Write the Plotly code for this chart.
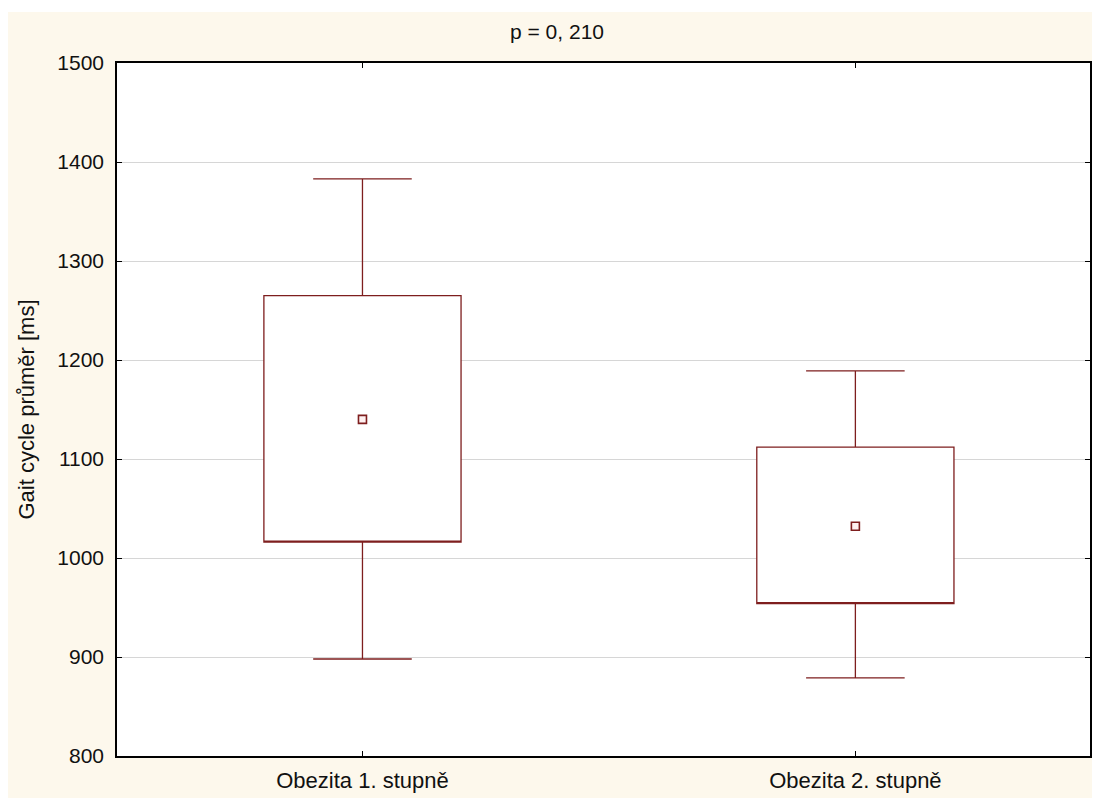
import plotly.graph_objects as go

groups = ["Obezita 1. stupně", "Obezita 2. stupně"]
means = [1140, 1032]
box_low = [1016, 954]
box_high = [1265, 1112]
whisker_low = [898, 879]
whisker_high = [1383, 1189]
y_ticks = [800, 900, 1000, 1100, 1200, 1300, 1400, 1500]

DARK_RED = "#7E1E1E"
CREAM = "#FDF8EC"
FONT = "Liberation Sans, Arial, sans-serif"

fig = go.Figure()
for i, g in enumerate(groups):
    fig.add_trace(go.Box(
        x=[g], q1=[box_low[i]], median=[box_low[i]], q3=[box_high[i]],
        lowerfence=[whisker_low[i]], upperfence=[whisker_high[i]],
        width=0.4, whiskerwidth=0.5, fillcolor="white",
        line=dict(color=DARK_RED, width=1.3), boxpoints=False,
        showlegend=False, hoverinfo="skip",
    ))
fig.add_trace(go.Scatter(
    x=groups, y=means, mode="markers",
    marker=dict(symbol="square", size=8, color="#FFF0F0",
                line=dict(color=DARK_RED, width=1.6)),
    showlegend=False,
))

# page is offset by 8px body margin
W, H = 1084, 790
L, R, T, B = 109, 0, 55, 42
pw, ph = W - L - R, H - T - B

fig.update_layout(
    width=W, height=H, autosize=False,
    margin=dict(l=L, r=R, t=T, b=B, pad=0),
    paper_bgcolor=CREAM, plot_bgcolor="white",
    font=dict(family=FONT, size=21, color="#111111"),
    shapes=[
        dict(type="rect", xref="paper", yref="paper",
             x0=-L / pw - 0.01, x1=1.01, y0=1 + (T - 4) / ph, y1=1 + T / ph + 0.01,
             fillcolor="white", line=dict(width=0), layer="above"),
    ],
    annotations=[dict(text="p = 0, 210", xref="paper", yref="paper",
                      x=(550 - L) / pw, y=1 + 32 / ph, xanchor="center", yanchor="middle",
                      showarrow=False, font=dict(size=21, family=FONT, color="#111111"))],
)
fig.update_xaxes(
    type="category", range=[-0.498, 1.476],
    showline=True, linecolor="black", linewidth=1.5, mirror="ticks",
    ticks="inside", ticklen=5, tickcolor="black", showgrid=False,
    tickfont=dict(size=22, family=FONT), ticklabelstandoff=4, zeroline=False,
)
fig.update_yaxes(
    range=[800, 1500], tickvals=y_ticks,
    showline=True, linecolor="black", linewidth=1.5, mirror="ticks",
    ticks="inside", ticklen=5, tickcolor="black",
    showgrid=True, gridcolor="#D6D6D6", gridwidth=1, zeroline=False,
    tickfont=dict(size=21, family=FONT), ticklabelstandoff=7,
    title=dict(text="Gait cycle průměr [ms]", font=dict(size=22, family=FONT), standoff=17),
)

fig.write_html("out.html")
